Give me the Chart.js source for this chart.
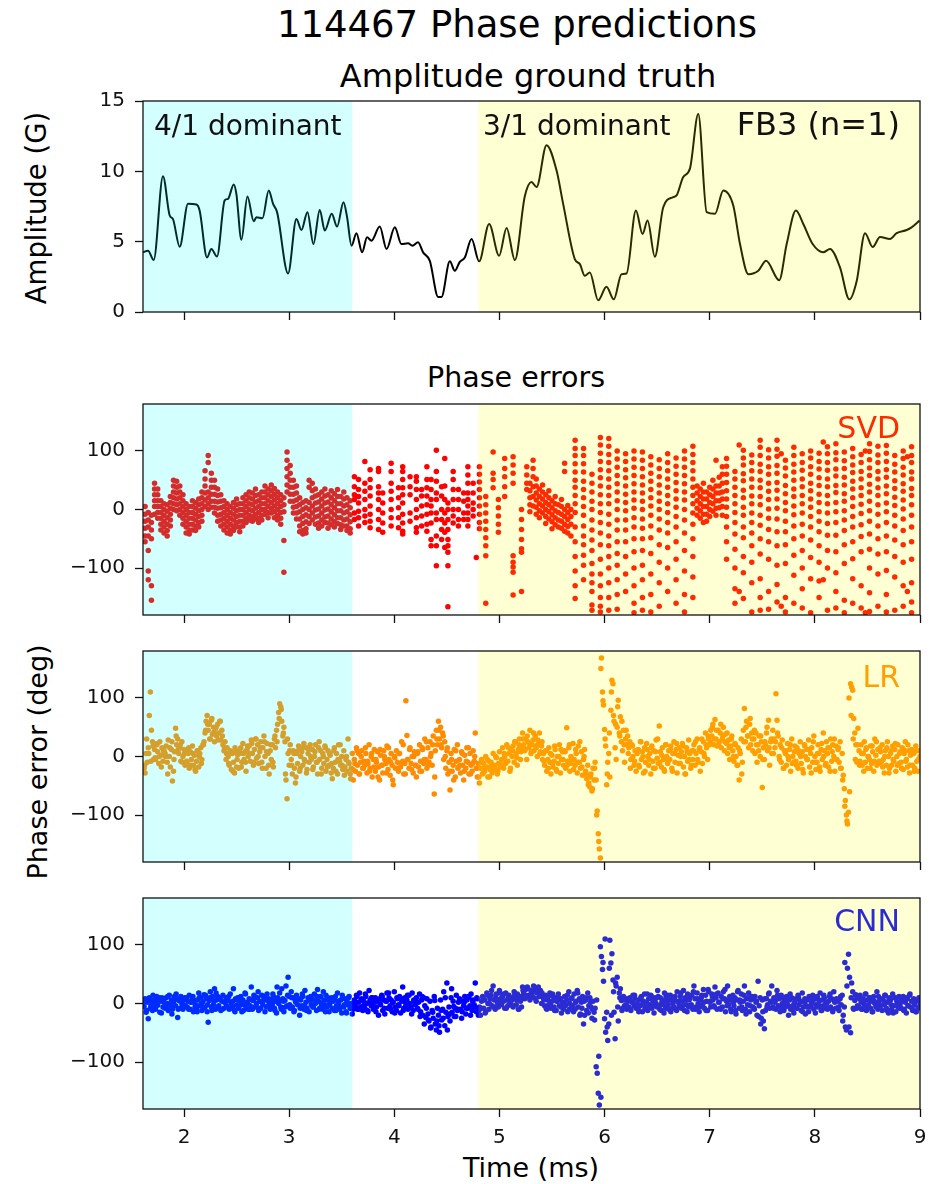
<!DOCTYPE html>
<html>
<head>
<meta charset="utf-8">
<title>114467 Phase predictions</title>
<script src="https://cdn.jsdelivr.net/npm/chart.js"></script>
<style>
body{margin:0;background:#fff;font-family:'DejaVu Sans',sans-serif;color:#000}
#fig{position:relative;width:938px;height:1184px;overflow:hidden}
#fig canvas{position:absolute;left:0}
.txt{position:absolute;white-space:nowrap;line-height:1;transform:translateX(-50%)}
.rot{position:absolute;white-space:nowrap;line-height:1;transform:translate(-50%,-50%) rotate(-90deg)}
</style>
</head>
<body>
<div id="fig">
<div class="txt" style="left:517px;top:6px;font-size:37px">114467 Phase predictions</div>
<div class="txt" style="left:528px;top:60px;font-size:32px">Amplitude ground truth</div>
<div class="txt" style="left:516px;top:364px;font-size:28.5px">Phase errors</div>
<div class="txt" style="left:531px;top:1154px;font-size:27px">Time (ms)</div>
<div class="rot" style="left:37px;top:208px;font-size:27.5px">Amplitude (G)</div>
<div class="rot" style="left:37px;top:762px;font-size:27px">Phase error (deg)</div>
<canvas id="amp" width="938" height="255" style="top:79px"></canvas>
<canvas id="svd" width="938" height="255" style="top:382px"></canvas>
<canvas id="lr" width="938" height="255" style="top:629px"></canvas>
<canvas id="cnn" width="938" height="293" style="top:876px"></canvas>
</div>

<script>
// axes
const X_MIN = 1.61, X_MAX = 9;
const xTicks = [2, 3, 4, 5, 6, 7, 8, 9];
const ampTicks = [0, 5, 10, 15];
const phaseTicks = [-100, 0, 100];
const cyanSpan = [1.61, 3.6];
const yellowSpan = [4.8, 9];

// amplitude ground truth (G)
const ampT = [1.61,1.658,1.712,1.80,1.864,1.895,1.959,2.038,2.118,2.149,2.219,2.26,2.314,2.387,2.419,2.473,2.498,2.546,2.603,2.663,
  2.689,2.746,2.806,2.847,2.885,2.99,3.069,3.117,3.174,3.231,3.291,3.339,3.405,3.456,3.517,3.551,3.593,3.64,3.694,3.741,
  3.783,3.862,3.926,4.005,4.068,4.131,4.173,4.226,4.274,4.338,4.417,4.449,4.528,4.576,4.623,4.671,4.735,4.807,4.902,4.997,
  5.068,5.147,5.241,5.305,5.353,5.448,5.543,5.606,5.717,5.765,5.812,5.86,5.939,6.018,6.088,6.161,6.209,6.298,6.361,6.409,
  6.478,6.558,6.653,6.685,6.748,6.812,6.891,6.971,7.05,7.129,7.224,7.288,7.367,7.462,7.536,7.661,7.732,7.82,7.89,7.979,
  8.08,8.144,8.239,8.328,8.398,8.477,8.55,8.62,8.715,8.778,8.873,8.92,8.995];
const ampV = [4.24,4.36,3.7,9.65,6.86,6.6,4.64,7.7,7.64,7.2,3.88,4.48,3.95,7.93,8.05,9.07,8.4,5.14,8.21,6.45,
  6.74,6.67,8.64,7.69,7.1,2.74,6.62,5.83,7.1,4.83,7.26,5.79,6.98,6.07,7.81,6.74,4.71,5.6,4.24,5.31,
  5.07,6.07,4.48,6.02,4.83,4.88,4.71,4.95,4.24,3.64,1.07,1.07,3.6,2.93,3.57,3.88,5.19,3.6,6.26,4.0,
  5.98,3.69,8.21,9.24,8.88,11.86,10.07,7.69,3.76,3.40,2.57,2.81,0.83,1.79,0.9,2.69,2.74,7.21,5.55,6.5,
  3.93,7.45,8.17,8.29,9.6,10.19,14.07,7.1,6.98,8.64,7.57,4.83,2.69,2.93,3.64,2.26,4.83,7.21,6.26,4.83,
  4.24,4.48,3.17,0.9,2.21,5.6,4.62,5.33,5.19,5.6,5.83,6.02,6.5];

// SVD phase error (deg): each row is [time, errors at that time...]
const svdCyanCols = [
  [1.63,5,-8,-20,-32,-45,-55],[1.66,-5,-18,-30,-45,-70,-105,-120],[1.69,-10,-22,-35,-50,-130,-155],[1.72,45,35,25,15,5,-8],
  [1.75,35,25,15,5,-5,-15],[1.78,15,5,-5,-15,-25,-35],[1.81,10,0,-10,-20,-30,-40],[1.84,8,-3,-14,-25,-36,-45],
  [1.87,22,12,2,-8,-18,-28],[1.90,50,40,30,20,10,0],[1.93,48,38,28,18,8,-2],[1.96,40,30,20,10,0,-10],
  [1.99,25,15,5,-5,-15,-25],[2.02,10,0,-10,-20,-30,-40],[2.05,5,-5,-15,-25,-35,-42],[2.08,15,5,-5,-15,-25,-35],
  [2.11,12,2,-8,-18,-28,-36],[2.14,18,8,-2,-12,-22,-30],[2.17,30,20,10,0,-10,-20],[2.20,66,52,40,28,16,5],
  [2.23,92,80,30,20,10,0],[2.26,62,50,38,26,14,4],[2.29,50,38,26,14,4,-6],[2.32,35,24,13,2,-10,-20],
  [2.35,25,14,3,-8,-18,-28],[2.38,15,5,-5,-15,-25,-35],[2.41,10,0,-10,-20,-30,-40],[2.44,5,-5,-15,-25,-35,-42],
  [2.47,12,2,-8,-18,-28,-36],[2.50,18,8,-2,-12,-22,-30],[2.53,10,0,-10,-20,-30,-38],[2.56,20,10,0,-10,-20,-28],
  [2.59,25,15,5,-5,-15,-22],[2.62,30,20,10,0,-10,-18],[2.65,28,18,8,-2,-12,-20],[2.68,35,24,13,2,-8,-16],
  [2.71,25,15,5,-5,-15,-22],[2.74,30,20,10,0,-10,-18],[2.77,40,30,20,10,0,-8],[2.80,35,25,15,5,-5,-14],
  [2.83,42,32,22,12,2,-6],[2.86,36,26,16,6,-4,-14],[2.89,30,20,10,0,-10,-18],[2.92,25,15,5,-5,-15,-25],
  [2.95,20,8,-4,-53,-107],[2.98,98,84,70,56,42,30],[3.01,75,62,50,38,26,14],[3.04,50,38,26,14,4,-6],
  [3.07,40,28,16,5,-6,-16],[3.10,20,8,-4,-16,-28,-38],[3.13,12,0,-12,-24,-36,-42],[3.16,15,3,-9,-21,-33,-40],
  [3.19,50,38,12,0,-12,-24],[3.22,45,32,20,6,-6,-18],[3.25,35,23,11,-1,-13,-25],[3.28,25,13,1,-11,-23,-32],
  [3.31,30,18,6,-6,-18,-28],[3.34,35,23,11,-1,-13,-22],[3.37,25,13,1,-11,-23,-32],[3.40,32,20,8,-4,-16,-26],
  [3.43,27,15,3,-9,-21,-30],[3.46,34,22,10,-2,-14,-24],[3.49,22,10,-2,-14,-26,-34],[3.52,30,18,6,-6,-18,-28],
  [3.55,20,8,-4,-16,-28,-36],[3.58,15,3,-9,-21,-33,-40]
];
const svdMidCols = [
  [3.62,56,39,25,17,-6,-17],[3.66,51,34,22,11,-3,-14,-28],[3.72,82,45,31,17,0,-11,-22],[3.77,68,51,37,23,6,-8,-20,-31],
  [3.85,70,65,39,28,17,0,-17,-34],[3.89,28,11,-6,-23,-39],[3.97,79,65,45,31,17,0,-14,-28],[4.04,37,20,3,-14,-31],
  [4.08,73,65,51,37,25,11,-8,-23,-37,-42],[4.15,56,39,25,-6,-20],[4.21,56,48,34,17,0,-14,-31,-39],[4.26,34,23,6,-11,-28],
  [4.31,73,51,37,23,8,-8,-25,-37],[4.35,51,34,17,6,-6,-23,-51,-62],[4.40,101,65,48,28,17,-6,-17,-45,-62,-96],
  [4.45,39,23,0,-17,-34,-51],[4.48,87,40,17,-6,-23,-39,-65],[4.51,11,0,-17,-34,-51,-62,-73,-96,-166],
  [4.56,65,51,34,17,0,-11,-23],[4.61,34,17,0,-17,-28],[4.66,28,14,-6,-17],[4.70,73,59,45,28,17,6,-6,-17,-28],
  [4.75,45,28,11,0,-11],[4.78,-82]
];
const svdYellowCols = [
  [4.81,73,60,47,34,20,6,-8,-22,-33],[4.87,22,8,-6,-20,-34,-48,-62,-79,-160],[4.94,98,62,51,37],[4.99,17,3,-11,-25,-39],
  [5.05,87,70,56,39,22],[5.13,90,76,62,45,-79,-90,-98,-107,-146],[5.21,0,-17,-34,-51,-67,-73,-140],[5.26,73,59,45,34],
  [5.29,45,32,20,8,-4],[5.32,84,70,56,39,22,6],[5.35,52,40,28,16,4,-8],[5.38,35,22,10,-2,-14],[5.41,42,30,18,6,-6],
  [5.44,25,12,0,-12,-24],[5.47,32,20,8,-4,-16],[5.50,15,3,-9,-21,-33],[5.53,22,10,-2,-14,-26],[5.56,8,-5,-18,-30],
  [5.59,17,5,-8,-20,-32],[5.62,79,65,0,-12,-25,-37],[5.65,7,-5,-17,-29,-40],[5.68,0,-12,-25,-45],
  [5.72,118,104,92,78,64,50,38,24,10,-5,-30,-55,-80,-105,-130,-152],
  [5.80,104,92,78,64,48,34,20,5,-10,-28,-45,-60,-78,-95,-120],
  [5.88,60,45,30,14,0,-18,-35,-52,-70,-92,-110,-125,-140,-163,-172],
  [5.96,123,110,96,82,68,54,40,25,10,-5,-22,-40,-60,-85,-110,-130,-150,-165,-175],
  [6.04,121,108,94,80,66,52,38,24,10,-8,-25,-45,-62,-80,-100,-125,-150,-172],
  [6.12,100,86,72,58,44,30,15,0,-18,-35,-55,-75,-95,-120,-145,-170],
  [6.20,95,82,68,54,40,26,12,-2,-18,-35,-55,-80,-110,-140],
  [6.28,100,86,72,58,44,30,16,2,-14,-30,-50,-72,-100,-130,-160,-176],
  [6.36,98,84,70,56,42,28,14,0,-16,-32,-50,-70,-95,-120,-150,-172],
  [6.44,90,76,62,48,34,20,6,-10,-28,-48,-75,-110,-145,-175],
  [6.52,85,70,56,42,28,14,0,-16,-35,-60,-90,-125,-165],
  [6.60,95,80,66,52,38,24,10,-5,-22,-40,-65,-100,-140],
  [6.68,88,74,60,46,32,18,4,-12,-30,-55,-85,-120,-160],
  [6.76,100,86,72,58,44,30,16,0,-18,-40,-70,-105,-145,-175],
  [6.84,108,94,80,66,52,38,24,10,-6,-25,-50,-80,-115,-150],
  [6.88,40,28,15,2,-10],[6.91,35,22,10,-2,-15],[6.94,45,30,18,5,-8,-22],[6.97,30,18,5,-8,-20],
  [7.00,38,25,12,0,-12],[7.03,50,35,22,10,-3],[7.06,84,40,28,15,2,-10],[7.09,55,40,28,15,3],[7.12,73,60,45,30,18,5,-10],
  [7.16,87,74,60,46,32,18,4,-12,-30,-55,-85],
  [7.24,65,52,38,24,10,-5,-22,-42,-68,-100,-135,-160],
  [7.28,110,-140],
  [7.32,101,88,76,61,49,33,20,4,-10,-30,-48,-80,-108,-152],
  [7.40,93,80,66,52,38,23,10,-6,-22,-40,-62,-90,-125,-175],
  [7.48,118,106,92,77,65,50,37,22,8,-10,-27,-50,-76,-118,-150,-172],
  [7.56,102,88,73,60,45,31,17,1,-15,-34,-55,-85,-140,-170],
  [7.64,118,103,91,75,62,46,33,18,2,-16,-38,-62,-95,-128,-158],
  [7.68,95,-165],
  [7.72,84,71,57,41,27,12,-2,-20,-38,-60,-92,-150,-175],
  [7.80,106,92,77,64,50,35,22,6,-9,-28,-50,-78,-112,-160],
  [7.88,95,80,67,52,39,24,10,-6,-25,-45,-70,-100,-135,-168],
  [7.96,100,88,73,60,45,32,18,4,-12,-30,-52,-82,-118,-176],
  [8.04,96,82,69,54,41,26,12,-4,-20,-38,-62,-90,-122,-150],
  [8.08,115,-120],
  [8.12,107,95,80,67,52,39,24,10,-6,-24,-44,-70,-100,-172],
  [8.20,112,97,85,69,57,41,29,12,-4,-22,-44,-72,-108,-140,-168],
  [8.28,98,83,70,55,42,27,14,-2,-18,-36,-60,-92,-155,-176],
  [8.36,104,90,76,63,48,35,20,5,-12,-30,-55,-84,-118,-160],
  [8.44,94,80,65,52,37,24,9,-7,-26,-46,-72,-130,-168],
  [8.48,100,-176],
  [8.52,112,99,85,71,58,43,30,14,-2,-20,-42,-68,-100,-142,-174],
  [8.60,108,93,80,65,52,37,24,8,-8,-28,-50,-76,-110,-165],
  [8.68,109,96,82,68,55,40,27,11,-4,-22,-45,-72,-104,-145,-175],
  [8.76,92,77,64,49,36,21,7,-10,-28,-52,-80,-115,-172],
  [8.84,100,87,72,59,44,31,16,1,-16,-36,-60,-90,-130,-165],
  [8.88,90,-140],
  [8.92,107,92,80,64,52,36,24,8,-10,-30,-55,-85,-125,-158,-176]
];

// LR and CNN phase error (deg): main samples every DT from T0, extra samples every DTB from T0B
const T0 = 1.62, DT = 0.01, T0B = 1.625, DTB = 0.02;
const lrErr = [
  -20,-28,5,-10,15,70,110,45,25,-5, 12,-5,20,8,-12,25,2,15,-8,10, 5,18,-10,28,0,-18,12,-42,-25,8,
  48,20,30,5,15,-8,25,0,12,-15, 10,-12,5,-20,8,-5,18,-15,2,-25, -8,10,-18,5,15,-5,20,25,40,60,
  70,45,55,30,62,38,50,25,48,35, 55,40,60,28,45,20,10,25,-5,15, 0,-15,10,-22,5,-10,-28,8,-18,3,
  -20,5,15,-10,22,-5,8,-25,12,0, 18,-8,28,5,-15,12,30,-3,20,-12, 8,25,-10,15,35,0,-20,22,5,-30,
  10,-5,20,-18,30,15,45,55,75,90, 85,60,35,50,25,-40,-72,5,-15,20, -5,-30,10,-20,-45,5,-12,18,-25,0,
  8,-15,22,-8,15,-22,5,-10,20,-5, 12,-18,0,20,-10,-30,15,-5,10,-20, 5,-12,18,-25,-5,10,-15,2,-28,-38,
  -20,15,-10,5,-30,20,-8,-15,0,-22, 10,-18,-5,-25,30,-12,-30,-20,5,-40, -5,-25,15,-15,5,-30,-10,10,-20,-8,
  -15,5,-28,-12,20,-20,0,-35,-5,12, -25,-10,8,-18,-40,2,-15,-28,10,-5, -12,18,-22,-5,-32,5,-15,-48,0,-20,
  10,-10,-25,5,-18,25,-8,-30,-12,95, 36,-5,-20,15,-12,0,-28,8,-15,-35, 5,-18,20,-8,-25,12,-12,30,-5,-20,
  15,-10,25,5,-15,35,-64,10,45,20, 60,30,50,15,40,-5,25,-20,10,-30, -10,-57,5,-25,-15,12,-35,-8,20,-18,
  -5,-28,8,-15,-40,2,-20,15,-10,-30, 5,-15,-25,10,-8,40,-20,-35,-12,-45, -20,-5,-30,-12,-25,0,-18,-35,-8,-22,
  -10,-28,5,-15,-20,-2,-30,-12,8,-18, -5,15,-20,0,-12,20,-8,5,-25,10, 0,18,-10,25,5,-15,12,30,-5,15,
  40,20,10,30,-5,25,15,45,5,20, 28,10,35,15,0,22,40,8,18,-5, 5,-15,10,-25,-5,15,-10,-30,2,-18,
  -8,12,-22,0,-12,20,-28,-5,8,-15, 10,-20,49,-8,15,-25,0,-12,22,-5, -15,5,-28,18,-10,-20,8,-32,-5,12,
  -25,-38,-15,-45,-52,-30,-59,-20,-40,-10, -40,-93,-132,-158,-173,168,110,88,46,18, -48,-10,5,-35,79,130,124,60,15,-5,
  50,96,40,68,25,10,45,-10,30,20, 35,15,25,-5,20,0,-15,10,-25,5, 12,-18,25,-5,8,-28,15,-10,22,0,
  -15,5,-30,18,-8,10,-20,28,-3,-12, 52,8,-18,15,-5,-25,20,0,-12,10, -5,18,-20,5,25,-10,12,-28,2,15,
  -12,8,22,-18,0,-30,15,-8,28,5, -20,10,-5,20,-15,5,30,-10,12,-25, 8,-12,25,0,40,15,-5,30,20,45,
  35,55,20,63,30,18,45,25,40,15, 30,50,10,38,22,5,28,-5,18,35, 10,-8,22,0,-15,15,-40,5,30,-10,
  45,82,25,60,35,15,55,20,40,10, 30,5,40,-10,20,35,0,25,-53,15, -5,20,40,10,62,-15,25,5,45,30,
  15,107,62,35,0,20,-10,28,-20,10, 5,-15,22,-5,12,-25,30,0,-10,18, -8,15,-20,5,25,-12,8,-28,20,0,
  12,-5,28,-18,5,15,-10,35,0,-22, -10,20,5,-25,12,-5,40,10,-15,25, 5,-18,15,30,-8,20,0,-25,18,-5,
  12,-10,25,-20,5,-32,-55,-75,-100,-115, -95,-60,124,118,113,65,40,20,-10,48, 10,-8,20,-15,5,25,-10,15,-20,0,
  -5,18,-12,8,-25,30,2,-15,12,-8, 15,-10,20,-5,-28,10,-15,25,0,-20, 5,-15,18,-8,12,-25,0,20,-12,8,
  -10,15,-22,5,25,-5,-18,10,-28,2, 12,-15,5,-20,18,-8,-25,10,0
];
const lrErrB = [
  -15,30,5,-8,18,-2,22,0,-18,10, 0,-30,15,25,-5,35,12,20,-10,5, -8,15,-15,5,-22,10,0,-12,20,45,
  55,30,65,42,50,28,60,35,15,5, -12,8,-25,15,-5,10,-18,5,-10,18, 5,22,-10,30,0,15,-20,25,8,-15,
  20,-10,35,25,65,80,40,-30,30,10, -15,5,-35,10,-20,15,-5,-28,12,0, -22,8,-10,25,-30,0,15,-18,5,-12,
  10,-25,-5,20,-15,-32,0,-10,-38,-22, -12,10,-30,0,-20,15,-8,-25,5,-18, -5,-35,12,-15,0,-28,15,-10,-40,-2,
  -20,5,-12,20,-30,-5,12,-22,0,-15, 8,-25,15,-5,25,-15,0,20,-35,30, 45,20,35,0,15,-25,-5,-40,10,-20,
  -15,5,-25,-8,15,-30,-12,0,-20,-35, -10,-28,-18,-5,-35,-15,-22,0,-25,-12, -15,5,-8,15,-20,10,25,-2,20,8,
  30,12,35,22,8,40,18,28,5,25, -8,10,-20,5,-12,18,-25,0,12,-5, 8,-15,20,-5,-22,12,-10,25,-18,0,
  -30,-48,-35,-55,-20,-100,-145,150,95,30, -30,40,110,70,55,85,35,60,20,45, 5,-20,18,-8,10,-15,25,0,-25,12,
  -5,15,-20,8,30,-10,2,-22,20,-8, 12,-25,5,22,-12,0,18,-30,8,-5, -15,10,25,-5,15,30,5,20,35,25,
  50,30,45,20,55,35,25,40,15,30, 0,20,-15,10,-30,25,50,35,65,30, 45,20,10,35,-5,25,50,15,30,5,
  25,40,-5,15,-20,10,0,20,-12,8, -15,10,0,-22,18,-5,12,-28,25,-10, 5,-18,22,0,-12,15,-25,8,30,-5,
  15,-20,-40,-85,-110,100,70,30,-5,20, -15,5,-25,12,0,-20,18,-8,25,-12, 8,-18,0,15,-28,10,-5,22,-15,5,
  -20,12,-8,20,-15,5,-25,10,-5
];
const cnnErr = [
  -5,8,-15,2,-26,10,-8,5,-12,0, 6,-10,12,-3,8,-15,4,10,-6,2, -8,10,0,-12,14,-4,6,-10,3,12,
  -4,8,-24,5,-8,12,0,-10,6,-3, 10,-6,4,14,-10,2,8,-14,5,-2, -10,6,18,-4,10,-12,3,15,-6,8,
  -14,-32,5,20,-6,12,-2,25,-10,6, 12,-4,8,-12,4,14,-8,2,10,-6, 5,-10,16,0,-6,25,-12,8,-3,10,
  -8,4,12,-14,6,-2,18,-6,2,-10, 8,-4,28,-10,5,12,-6,0,10,-12, 4,-8,14,-2,8,-14,6,16,-4,2,
  -10,6,-2,12,-8,4,-16,10,0,18, -6,25,8,-14,5,30,-4,45,12,-8, 20,-6,10,-12,4,14,-2,8,-20,6,
  -4,12,-10,22,2,-8,10,-14,6,-2, 8,-6,16,0,-12,24,4,-8,12,-4, -10,6,-2,14,-6,10,-14,2,8,-8,
  4,-12,12,-4,18,0,-10,6,-16,10, -6,8,-14,4,-2,12,-8,0,-18,-10, 6,-4,14,-10,2,18,-6,8,-12,4,
  -8,12,0,-14,22,6,-4,10,-10,2, 10,-6,4,-20,8,-2,14,-12,6,-18, 4,18,-8,10,-4,6,-14,2,20,-6,
  -12,8,-2,12,-16,4,28,-8,10,-4, 6,-10,14,0,-6,18,-12,4,-2,10, -8,2,16,-14,6,-20,10,-4,-24,8,
  -18,-30,4,-40,-12,-25,12,-35,-45,-8, -20,-49,6,-28,-10,20,-38,-15,35,-22, -6,-30,10,-15,4,-22,-8,14,-12,2,
  8,-10,-25,4,-4,12,-18,6,-8,10, -4,16,-12,6,-2,35,-14,8,-20,-6, -20,4,12,-8,6,-14,18,0,-10,8,
  14,-4,30,6,-10,16,2,-6,22,8, -2,12,4,-8,18,6,-4,14,0,10, 6,-6,20,10,-2,16,-10,12,4,-6,
  28,18,8,24,12,26,14,6,22,16, 20,10,26,4,18,28,12,22,0,14, 8,-4,14,-10,6,-2,18,-8,4,12,
  -6,10,-12,4,16,-4,8,-16,2,-10, 12,-2,6,-14,20,0,-8,10,-4,16, -10,4,22,-6,8,-18,2,12,-35,-20,
  6,-12,18,-4,10,-6,-25,4,-15,-8, -108,-119,-153,-173,97,80,58,38,-26,-49, -15,-63,-35,108,69,85,40,-15,-60,30,
  45,-30,18,25,5,-8,12,-4,8,-10, 4,-6,10,-12,2,14,-4,8,-8,0, -10,6,-4,12,-14,4,16,-6,2,-12,
  8,-2,14,-8,4,-16,10,0,-6,12, -4,10,-12,6,-2,18,-8,4,14,-10, 6,-14,8,0,-6,12,-10,20,2,-4,
  12,-8,4,22,-12,6,-2,16,-6,10, -4,14,-10,30,8,-6,18,0,-14,6, 10,-2,24,-8,14,4,-12,20,2,-6,
  16,6,-4,28,10,-10,18,2,-8,12, -6,20,8,-14,4,30,-2,12,-10,6, 14,-4,10,-18,6,22,-8,2,16,-12,
  4,30,-10,8,-2,18,-14,6,12,-6, -8,12,2,-20,38,-4,10,-25,6,-30, -43,-12,8,-2,16,-8,4,30,-6,10,
  2,-10,22,-4,8,-14,14,0,-8,6, -6,12,-2,-20,6,-10,10,-4,-16,4, 8,-8,14,-2,4,-12,18,-6,2,-18,
  -4,6,-14,10,-6,2,14,-10,8,-2, 12,-6,4,18,-12,6,-4,10,-8,0, -10,4,12,-6,8,-14,20,2,-8,6,
  4,-12,8,-2,14,-20,-6,-40,-45,60, 84,45,-50,35,20,-10,5,15,-8,10, -6,14,2,-10,8,-4,16,-12,6,-2,
  10,-8,4,-14,12,0,-6,20,-10,4, -4,8,-12,6,-2,14,-8,2,-16,10, 6,-10,16,-4,10,-14,4,-6,12,-2,
  -8,4,12,-10,2,-16,8,-4,14,-6, 4,-12,8,-2,-14,6,-8,10,-4
];
const cnnErrB = [
  4,-12,8,-4,14,-8,2,10,-16,6, -6,12,-2,-18,6,16,-10,4,-4,10, 8,-10,2,12,-6,-14,10,0,-8,14,
  -2,10,-12,4,18,-6,8,-10,2,-4, 12,-8,4,-14,6,10,-2,-12,16,0, -10,6,14,-4,20,-8,2,12,-6,8,
  -4,16,-12,28,6,-10,4,-6,14,-2, 10,-14,2,8,-8,16,-4,-12,6,12, -6,4,12,-10,0,20,-14,6,-2,10,
  8,-12,4,-6,14,-2,-16,10,-8,-4, 4,12,-10,6,-4,16,-12,2,10,-6, -14,6,0,12,-8,4,18,-10,2,-16,
  10,-4,8,-12,2,14,-6,-18,6,0, -10,-22,12,-35,-8,-28,-42,-15,5,-30, -38,-12,-25,10,-45,-18,25,-5,-22,-10,
  6,-14,2,-8,12,-20,4,-6,10,-12, -8,8,-16,14,0,22,-6,10,-2,18, 4,16,-8,10,2,-4,14,6,-10,12,
  22,14,28,10,20,30,8,24,16,18, 6,-8,12,-2,16,-12,4,10,-6,2, -4,14,-10,8,-14,2,18,-20,-8,4,
  10,-16,2,-10,-28,6,-90,-160,70,110, -40,60,-20,20,35,-6,10,-12,6,-2, 8,-10,4,14,-6,-14,10,0,-8,16,
  -6,12,-4,8,22,-10,2,-16,12,-2, 14,-8,6,-12,4,18,-4,10,-14,6, -2,20,-10,8,-6,14,2,-12,24,4,
  12,-6,16,2,-10,8,24,-4,6,-14, 2,-12,20,6,-6,14,-18,10,-4,8, -10,4,-22,-35,-14,8,-6,18,2,-8,
  6,14,-6,10,-12,2,-4,16,-10,0, -8,10,4,-14,8,-6,12,-2,6,-16, 10,-4,-12,14,2,-8,16,-10,4,8,
  -6,12,-30,70,30,-40,10,-8,14,-4, 8,-10,2,16,-6,10,-14,4,-2,12, -4,6,14,-12,8,-2,-16,10,0,-8,
  6,-12,10,-4,16,-8,2,-14,4
];

const SVD_COLOR = '#ff0000', LR_COLOR = '#ff8c00', CNN_COLOR = '#0000ff';

Chart.defaults.font.family = '"DejaVu Sans"';
Chart.defaults.color = '#000';

const gridPoints = (ys, t0, dt) => ys.map((y, i) => ({ x: t0 + i * dt, y }));
const colPoints = cols => cols.flatMap(([t, ...ys]) => ys.map(y => ({ x: t, y })));
const dots = (data, color) => ({ data, backgroundColor: color, pointRadius: 2.75, pointBorderWidth: 0, pointHoverRadius: 0 });

// spans are painted over the marks with low alpha, like matplotlib axvspan
const spanPlugin = {
  id: 'spans',
  afterDatasetsDraw(chart, args, o) {
    const { ctx, chartArea: a, scales: { x } } = chart;
    ctx.save();
    if (o.tag) {
      ctx.font = '30px "DejaVu Sans"';
      ctx.fillStyle = o.tagColor;
      ctx.textAlign = 'right';
      ctx.textBaseline = 'alphabetic';
      ctx.fillText(o.tag, 900, a.top + o.tagDy);
    }
    ctx.beginPath();
    ctx.rect(a.left, a.top, a.width, a.height);
    ctx.clip();
    const band = (s, c) => {
      const x0 = x.getPixelForValue(s[0]), x1 = x.getPixelForValue(s[1]);
      ctx.fillStyle = c;
      ctx.fillRect(x0, a.top, x1 - x0, a.height);
    };
    band(cyanSpan, 'rgba(0,255,255,0.17)');
    band(yellowSpan, 'rgba(255,255,0,0.17)');
    ctx.restore();
    ctx.save();
    (o.notes || []).forEach(n => {
      ctx.font = n.size + 'px "DejaVu Sans"';
      ctx.fillStyle = '#111';
      ctx.textAlign = n.align;
      ctx.textBaseline = 'alphabetic';
      ctx.fillText(n.text, n.x, a.top + n.dy);
    });
    ctx.strokeStyle = '#111';
    ctx.lineWidth = 1.3;
    ctx.strokeRect(a.left, a.top, a.width, a.height);
    ctx.restore();
  }
};

function panel(id, type, datasets, yMin, yMax, yTicks, xh, showX, spans) {
  return new Chart(document.getElementById(id), {
    type,
    data: { datasets },
    options: {
      responsive: false, animation: false, devicePixelRatio: 1, events: [],
      layout: { padding: { top: 22, right: 18, bottom: 0, left: 0 } },
      plugins: { legend: { display: false }, tooltip: { enabled: false }, spans },
      scales: {
        x: {
          type: 'linear', min: X_MIN, max: X_MAX,
          afterBuildTicks: s => { s.ticks = xTicks.map(v => ({ value: v })); },
          afterFit: s => { s.height = xh; },
          border: { display: false },
          grid: { drawOnChartArea: false, tickLength: 8, tickWidth: 1.3, tickColor: '#111' },
          ticks: { display: showX, padding: 9, color: '#111', font: { size: 20 }, maxRotation: 0, autoSkip: false }
        },
        y: {
          type: 'linear', min: yMin, max: yMax,
          afterBuildTicks: s => { s.ticks = yTicks.map(v => ({ value: v })); },
          afterFit: s => { s.width = 143; },
          border: { display: false },
          grid: { drawOnChartArea: false, tickLength: 8, tickWidth: 1.3, tickColor: '#111' },
          ticks: { padding: 10, color: '#111', font: { size: 20 }, callback: v => v < 0 ? '\u2212' + (-v) : String(v) }
        }
      }
    },
    plugins: [spanPlugin]
  });
}

panel('amp', 'line', [{
  data: ampT.map((t, i) => ({ x: t, y: ampV[i] })),
  borderColor: '#000', borderWidth: 2, pointRadius: 0, cubicInterpolationMode: 'monotone', fill: false
}], 0, 15, ampTicks, 22, false, {
  notes: [
    { text: '4/1 dominant', x: 154, dy: 34, size: 28, align: 'left' },
    { text: '3/1 dominant', x: 483, dy: 34, size: 28, align: 'left' },
    { text: 'FB3 (n=1)', x: 900, dy: 34, size: 32, align: 'right' }
  ]
});

panel('svd', 'scatter', [
  dots(colPoints(svdCyanCols), SVD_COLOR),
  dots(colPoints(svdMidCols), SVD_COLOR),
  dots(colPoints(svdYellowCols), SVD_COLOR)
], -180, 180, phaseTicks, 22, false, { tag: 'SVD', tagColor: SVD_COLOR, tagDy: 34 });

panel('lr', 'scatter', [
  dots(gridPoints(lrErr, T0, DT), LR_COLOR),
  dots(gridPoints(lrErrB, T0B, DTB), LR_COLOR)
], -180, 180, phaseTicks, 22, false, { tag: 'LR', tagColor: LR_COLOR, tagDy: 36 });

panel('cnn', 'scatter', [
  dots(gridPoints(cnnErr, T0, DT), CNN_COLOR),
  dots(gridPoints(cnnErrB, T0B, DTB), CNN_COLOR)
], -180, 180, phaseTicks, 60, true, { tag: 'CNN', tagColor: CNN_COLOR, tagDy: 33 });
</script>
</body>
</html>
